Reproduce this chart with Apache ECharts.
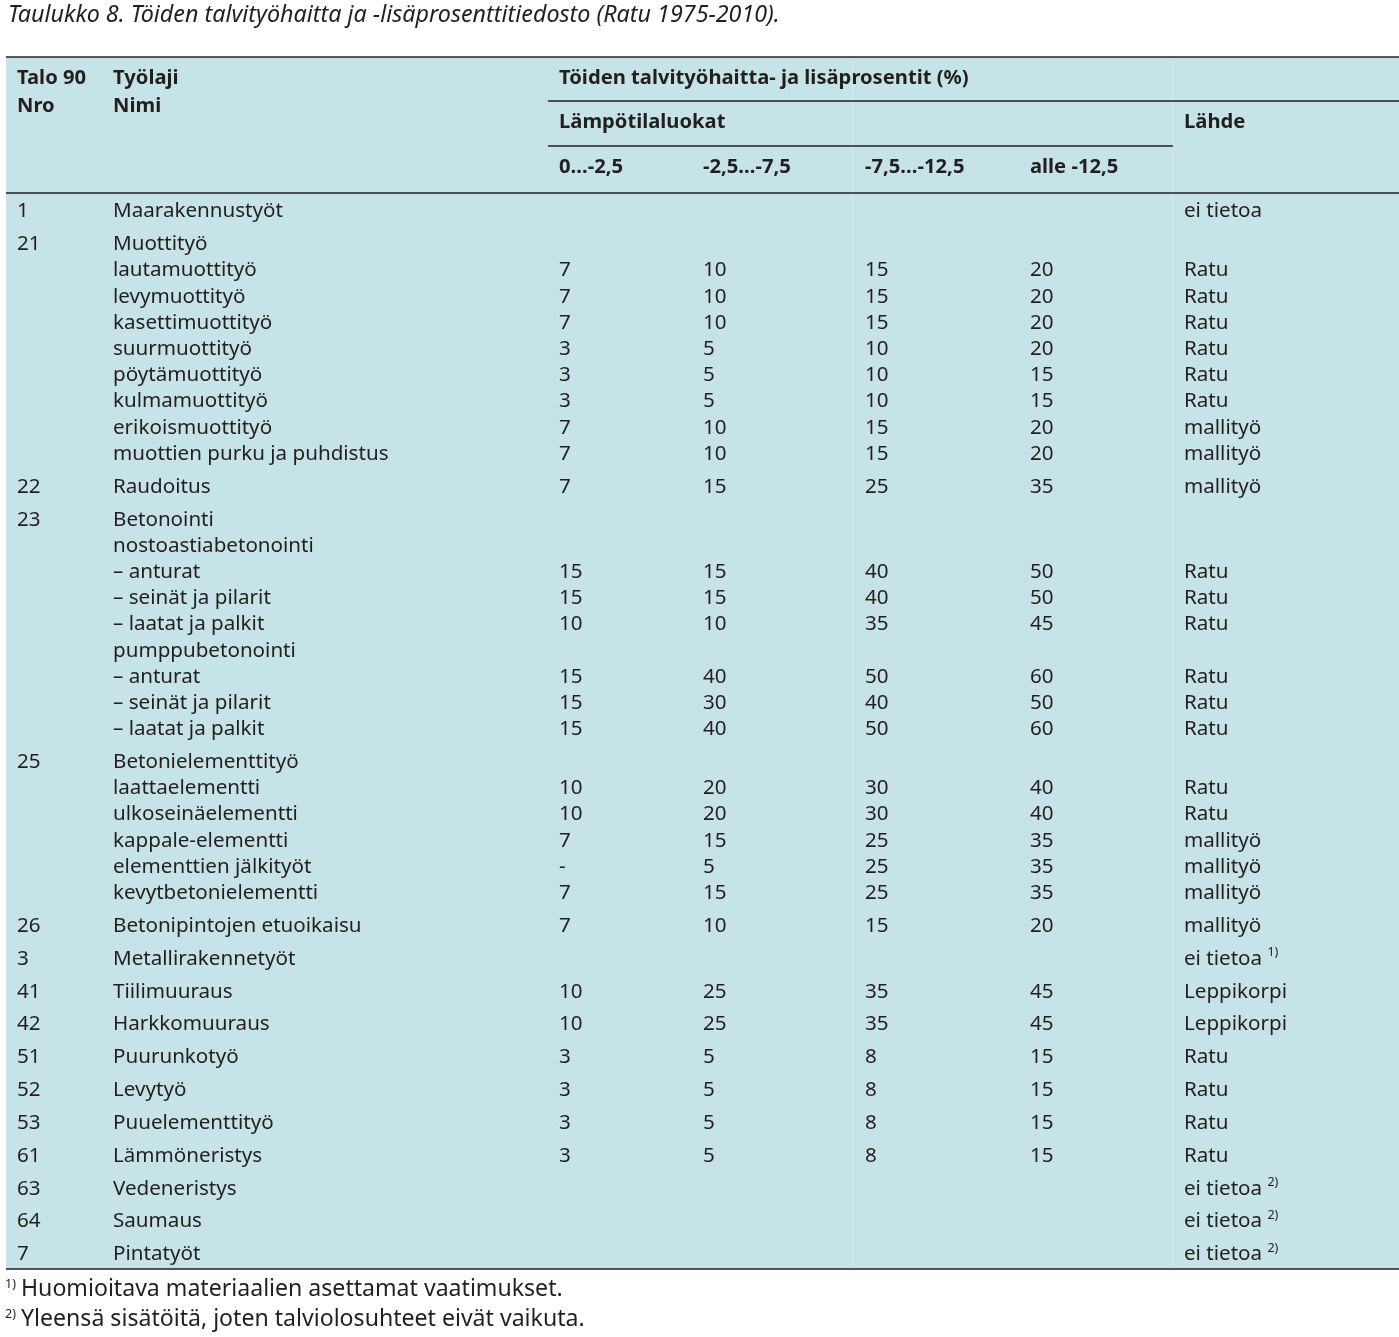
<!DOCTYPE html>
<html><head><meta charset="utf-8">
<script src="https://cdn.jsdelivr.net/npm/echarts@6/dist/echarts.min.js"></script>
<style>html,body{margin:0;padding:0;background:#fff}#c{width:1399px;height:1337px}</style>
</head><body><div id="c"></div>
<script>
// ---------- DATA ----------
const titleText = 'Taulukko 8. Töiden talvityöhaitta ja -lisäprosenttitiedosto (Ratu 1975-2010).';
const headNro = ['Talo 90', 'Nro'];
const headName = ['Työlaji', 'Nimi'];
const headMain = 'Töiden talvityöhaitta- ja lisäprosentit (%)';
const headSub = 'Lämpötilaluokat';
const headSource = 'Lähde';
const tempClasses = ['0…-2,5', '-2,5…-7,5', '-7,5…-12,5', 'alle -12,5'];

// g = new group row (Talo 90 number), l = continuation line
const rowKind = ['g','g','l','l','l','l','l','l','l','l','g','g','l','l','l','l','l','l','l','l','g','l','l','l','l','l','g','g','g','g','g','g','g','g','g','g','g'];
const nro = ['1','21','','','','','','','','','22','23','','','','','','','','','25','','','','','','26','3','41','42','51','52','53','61','63','64','7'];
const names = ['Maarakennustyöt','Muottityö','lautamuottityö','levymuottityö','kasettimuottityö','suurmuottityö','pöytämuottityö','kulmamuottityö','erikoismuottityö','muottien purku ja puhdistus','Raudoitus','Betonointi','nostoastiabetonointi','– anturat','– seinät ja pilarit','– laatat ja palkit','pumppubetonointi','– anturat','– seinät ja pilarit','– laatat ja palkit','Betonielementtityö','laattaelementti','ulkoseinäelementti','kappale-elementti','elementtien jälkityöt','kevytbetonielementti','Betonipintojen etuoikaisu','Metallirakennetyöt','Tiilimuuraus','Harkkomuuraus','Puurunkotyö','Levytyö','Puuelementtityö','Lämmöneristys','Vedeneristys','Saumaus','Pintatyöt'];
const pct1 = [null,null,7,7,7,3,3,3,7,7,7,null,null,15,15,10,null,15,15,15,null,10,10,7,'-',7,7,null,10,10,3,3,3,3,null,null,null];
const pct2 = [null,null,10,10,10,5,5,5,10,10,15,null,null,15,15,10,null,40,30,40,null,20,20,15,5,15,10,null,25,25,5,5,5,5,null,null,null];
const pct3 = [null,null,15,15,15,10,10,10,15,15,25,null,null,40,40,35,null,50,40,50,null,30,30,25,25,25,15,null,35,35,8,8,8,8,null,null,null];
const pct4 = [null,null,20,20,20,20,15,15,20,20,35,null,null,50,50,45,null,60,50,60,null,40,40,35,35,35,20,null,45,45,15,15,15,15,null,null,null];
const sources = ['ei tietoa','','Ratu','Ratu','Ratu','Ratu','Ratu','Ratu','mallityö','mallityö','mallityö','','','Ratu','Ratu','Ratu','','Ratu','Ratu','Ratu','','Ratu','Ratu','mallityö','mallityö','mallityö','mallityö','ei tietoa','Leppikorpi','Leppikorpi','Ratu','Ratu','Ratu','Ratu','ei tietoa','ei tietoa','ei tietoa'];
const sourceNotes = ['','','','','','','','','','','','','','','','','','','','','','','','','','','','1)','','','','','','','2)','2)','2)'];
const footnoteMarks = ['1)', '2)'];
const footnoteTexts = ['Huomioitava materiaalien asettamat vaatimukset.', 'Yleensä sisätöitä, joten talviolosuhteet eivät vaikuta.'];

// ---------- LAYOUT ----------
const W = 1399, H = 1337;
const FONT = '"Noto Sans", "Open Sans", sans-serif';
const INK = '#231f20';
const BG = '#c6e3e8';
const colX = {nro: 17, name: 113, p: [559, 703, 865, 1030], src: 1184};
const firstRowY = 211.5, groupStep = 32.85, lineStep = 26.2;
const tableTop = 57, tableBottom = 1269, left = 6, right = 1399;
const dy = 1.5;

const rowY = [];
rowKind.forEach((k, i) => {
  if (i === 0) rowY.push(firstRowY);
  else rowY.push(rowY[i - 1] + (k === 'g' ? groupStep : lineStep));
});

const cells = [];
function cell(x, y, text, style) { cells.push({x, y, text: String(text), style}); }

const sBody = {fontSize: 20.6, fontWeight: 'normal'};
const sHead = {fontSize: 20.2, fontWeight: 'bold'};

cell(8, 15, titleText, {fontSize: 23.3, fontStyle: 'italic'});
cell(colX.nro, 77 + dy, headNro[0], sHead);
cell(colX.nro, 105 + dy, headNro[1], sHead);
cell(colX.name, 77 + dy, headName[0], sHead);
cell(colX.name, 105 + dy, headName[1], sHead);
cell(colX.p[0], 77 + dy, headMain, sHead);
cell(colX.p[0], 121 + dy, headSub, sHead);
cell(colX.src, 121 + dy, headSource, sHead);
tempClasses.forEach((t, j) => cell(colX.p[j], 166 + dy, t, sHead));

rowKind.forEach((k, i) => {
  const y = rowY[i];
  if (nro[i]) cell(colX.nro, y, nro[i], sBody);
  cell(colX.name, y, names[i], sBody);
  [pct1, pct2, pct3, pct4].forEach((arr, j) => {
    if (arr[i] !== null) cell(colX.p[j], y, arr[i], sBody);
  });
  if (sources[i]) {
    cell(colX.src, y, sources[i], Object.assign({sup: sourceNotes[i]}, sBody));
  }
});
footnoteTexts.forEach((t, i) => {
  const y = 1289 + i * 30;
  cell(5, y - 5, footnoteMarks[i], {fontSize: 12.5});
  cell(21, y, t, {fontSize: 23.1});
});

const rules = [
  [left, tableTop, right, tableTop],
  [548, 101, right, 101],
  [548, 146, 1173, 146],
  [left, 193, right, 193],
  [left, tableBottom, right, tableBottom]
];
const faint = [
  [853, tableTop, 853, tableBottom],
  [1173, tableTop, 1173, tableBottom]
];
const bgRect = [[left, tableTop, right, tableBottom]];

function textRender(params, api) {
  const c = cells[params.dataIndex];
  const p = api.coord([api.value(0), api.value(1)]);
  const st = c.style;
  const style = {
    text: c.text,
    fontFamily: FONT,
    fontSize: st.fontSize,
    fontWeight: st.fontWeight || 'normal',
    fontStyle: st.fontStyle || 'normal',
    fill: INK,
    align: 'left',
    verticalAlign: 'middle'
  };
  if (st.sup) {
    style.text = c.text + ' {sup|' + st.sup + '}';
    style.rich = {sup: {fontSize: 12.5, fontFamily: FONT, fill: INK, verticalAlign: 'top', lineHeight: 26}};
    style.lineHeight = 26;
  }
  return {type: 'text', x: p[0], y: p[1], style};
}
function lineRender(color, width) {
  return function (params, api) {
    const a = api.coord([api.value(0), api.value(1)]);
    const b = api.coord([api.value(2), api.value(3)]);
    return {type: 'line', shape: {x1: a[0], y1: a[1], x2: b[0], y2: b[1]}, style: {stroke: color, lineWidth: width}};
  };
}
function rectRender(params, api) {
  const a = api.coord([api.value(0), api.value(1)]);
  const b = api.coord([api.value(2), api.value(3)]);
  return {type: 'rect', shape: {x: a[0], y: a[1], width: b[0] - a[0], height: b[1] - a[1]}, style: {fill: BG}};
}

const chart = echarts.init(document.getElementById('c'), null, {renderer: 'canvas'});
chart.setOption({
  animation: false,
  backgroundColor: '#ffffff',
  grid: {left: 0, right: 0, top: 0, bottom: 0},
  xAxis: {type: 'value', min: 0, max: W, show: false},
  yAxis: {type: 'value', min: 0, max: H, inverse: true, show: false},
  tooltip: {show: false},
  series: [
    {type: 'custom', name: 'bg', renderItem: rectRender, data: bgRect, z: 1, silent: true},
    {type: 'custom', name: 'faint', renderItem: lineRender('#d3ebee', 1), data: faint, z: 2, silent: true},
    {type: 'custom', name: 'rules', renderItem: lineRender(INK, 1.5), data: rules, z: 3, silent: true},
    {type: 'custom', name: 'cells', renderItem: textRender, data: cells.map(c => [c.x, c.y]), z: 4, silent: true}
  ]
});
</script>
</body></html>
